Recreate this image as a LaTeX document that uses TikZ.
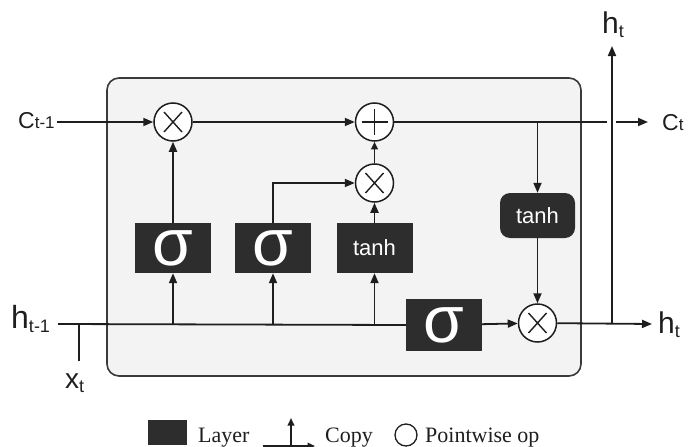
\documentclass[tikz,border=0pt]{standalone}
\usepackage{fontspec}
\setmainfont{Liberation Sans}
\newfontfamily\legendfont{Liberation Serif}
\usetikzlibrary{arrows.meta}

\definecolor{layerfill}{HTML}{2D2D2D}
\definecolor{cellfill}{HTML}{F3F3F3}
\definecolor{cellline}{HTML}{3A3A3A}
\definecolor{wire}{HTML}{1E1E1E}

\newcommand{\fsz}[1]{\fontsize{#1}{#1}\selectfont}

\begin{document}
\begin{tikzpicture}[x=1pt,y=-1pt,
  flow/.style={line width=1.8pt, draw=wire},
  arr/.style={flow, -{Triangle[length=10pt,width=8pt]}},
  smallarr/.style={flow, -{Triangle[length=7.5pt,width=6.5pt]}},
  layer/.style={fill=layerfill, draw=none, minimum width=76pt, minimum height=50pt,
    inner sep=0pt, text=white},
  sigmabox/.style={layer, font=\fsz{66}},
  tanhbox/.style={layer, font=\fsz{22}},
  op/.style={circle, draw=wire, line width=1.5pt, fill=white, minimum size=38pt, inner sep=0pt},
  opmark/.style={line width=1.4pt, draw=wire},
  lbl/.style={anchor=base west, inner sep=0pt, text=wire},
  legend/.style={anchor=base west, inner sep=0pt, font=\legendfont\fsz{22}, text=wire}
]
\useasboundingbox (0,0) rectangle (699,447);

% cell frame
\draw[fill=cellfill, draw=cellline, line width=1.6pt, rounded corners=12pt]
  (107,78) rectangle (581,376);

% pointwise operations
\node[op] (m1)  at (173,122) {};
\node[op] (add) at (374.5,122) {};
\node[op] (m2)  at (374.5,183) {};
\node[op] (m3)  at (537.5,323) {};
\foreach \n in {m1,m2,m3}
  \draw[opmark] ([shift={(-9,-10)}]\n.center) -- ([shift={(9,10)}]\n.center)
                ([shift={(-9,10)}]\n.center) -- ([shift={(9,-10)}]\n.center);
\draw[opmark] ([shift={(-13,0)}]add.center) -- ([shift={(13,0)}]add.center)
              ([shift={(0,-13)}]add.center) -- ([shift={(0,13)}]add.center);

% layers
\node[sigmabox] (sf) at (173,248) {σ};
\node[sigmabox] (si) at (273,248) {σ};
\node[tanhbox]  (tc) at (374.5,248) {tanh};
\node[sigmabox, minimum height=52pt] (so) at (444,325) {σ};
\node[tanhbox, rounded corners=10pt, minimum width=75pt, minimum height=45pt]
  (th) at (537.5,215.5) {tanh};

% free ends and junctions
\coordinate (cin)  at (57,122);
\coordinate (cbr)  at (537.5,122);
\coordinate (gapL) at (607,122);
\coordinate (gapR) at (616,122);
\coordinate (cout) at (648,122);
\coordinate (hin)  at (58,324);
\coordinate (xin)  at (79,361);
\coordinate (xj)   at (79,324);
\coordinate (hj)   at (612,324);
\coordinate (hout) at (652,324);
\coordinate (hup)  at (612,46);

% cell state
\draw[arr] (cin) -- (m1);
\draw[arr] (m1) -- (add);
\draw[flow] (add) -- (gapL);
\draw[arr] (gapR) -- (cout);
\draw[arr] (cbr) -- (th);
\draw[arr] (th) -- (m3);

% gates
\draw[arr] (sf) -- (m1);
\draw[arr] (si.north) |- (m2);
\draw[arr] (tc) -- (m2);
\draw[smallarr] (m2) -- (add);

% hidden state
\draw[flow] (hin) -- (so.west);
\draw[flow] (xin) -- (xj);
\draw[arr] (sf.south |- hin) -- (sf.south);
\draw[arr] (si.south |- hin) -- (si.south);
\draw[arr] (tc.south |- hin) -- (tc.south);
\draw[arr] (so) -- (m3);
\draw[arr] (m3) -- (hout);
\draw[arr] (hj) -- (hup);

% signal labels
\node[lbl] (lc0) at (18,128) {\fsz{23}C\fsz{17}t-1};
\node[lbl] (lc1) at (662,130) {\fsz{23}C\fsz{17}t};
\node[lbl] (lh0) at (11,328) {\fsz{32}h\raisebox{-4pt}{\fsz{18}t-1}};
\node[lbl] (lx)  at (65,388) {\fsz{28}x\raisebox{-4pt}{\fsz{18}t}};
\node[lbl] (lh1) at (602,33) {\fsz{30}h\raisebox{-4pt}{\fsz{18}t}};
\node[lbl] (lh2) at (658,333) {\fsz{30}h\raisebox{-4pt}{\fsz{18}t}};

% legend
\node[fill=layerfill, minimum width=39pt, minimum height=25pt, inner sep=0pt] (lgl) at (167.5,432.5) {};
\node[legend] (lgt1) at (198,442) {Layer};
\coordinate (cpa) at (263,446);
\coordinate (cpb) at (315,446);
\coordinate (cpc) at (291,446);
\coordinate (cpd) at (291,418);
\draw[smallarr] (cpa) -- (cpb);
\draw[smallarr] (cpc) -- (cpd);
\node[legend] (lgt2) at (325,442) {Copy};
\node[circle, draw=wire, line width=1.3pt, minimum size=22pt, inner sep=0pt] (lgo) at (406,435) {};
\node[legend] (lgt3) at (425,442) {Pointwise op};
\end{tikzpicture}
\end{document}
